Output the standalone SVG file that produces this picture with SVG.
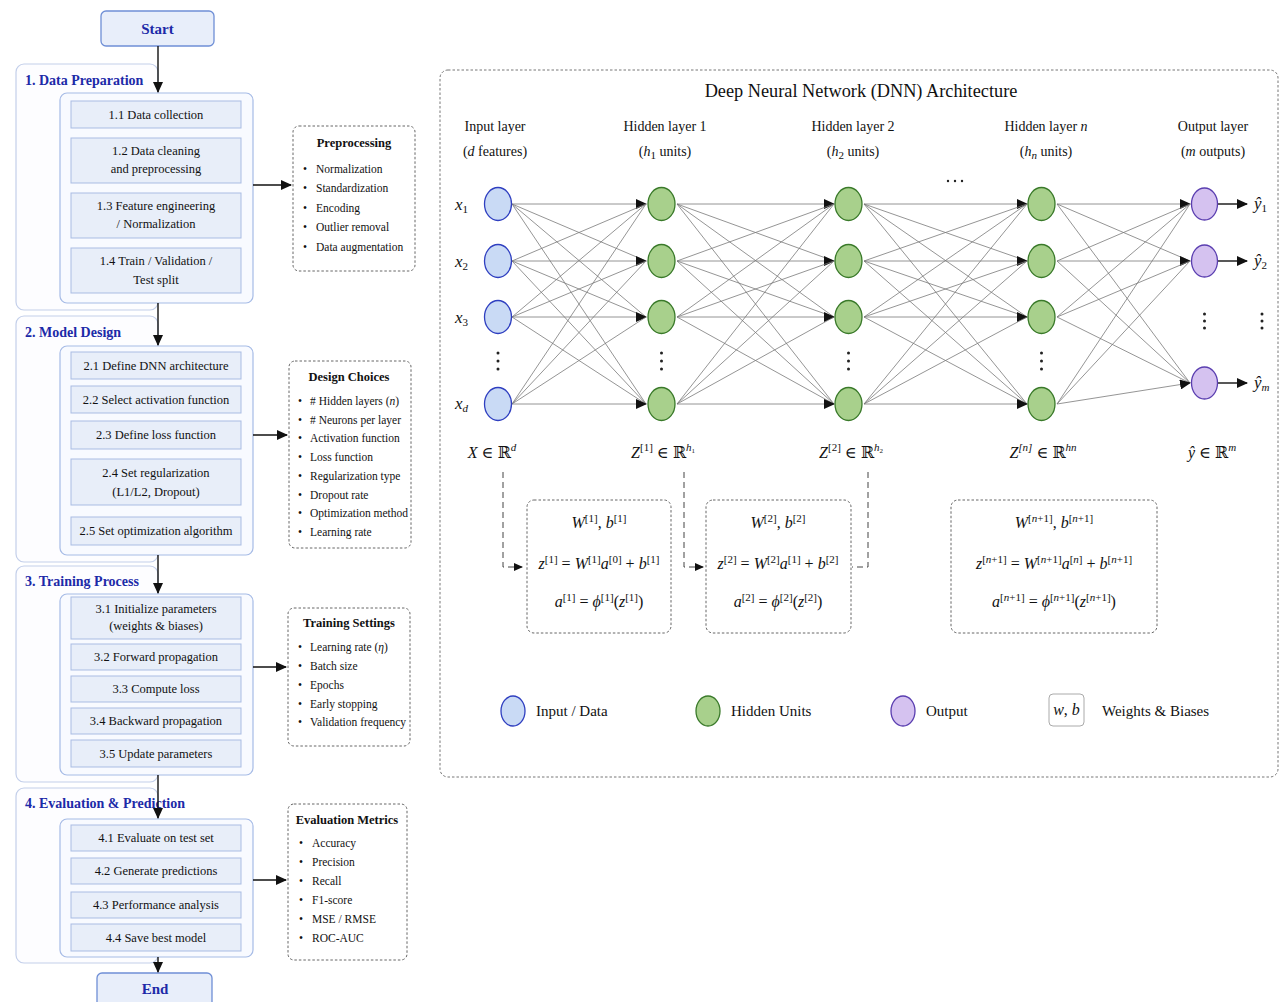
<svg xmlns="http://www.w3.org/2000/svg" width="1280" height="1002" viewBox="0 0 1280 1002">
<style>
.outer{fill:#fdfdff;stroke:#c3cfea;stroke-width:1.2}
.inner{fill:#f8faff;stroke:#a6bbe6;stroke-width:1.2}
.item{fill:#e8eef9;stroke:#a9bce3;stroke-width:1}
.side{fill:#fff;stroke:#666;stroke-width:1;stroke-dasharray:2.5 2}
.term{fill:#e8eefa;stroke:#6f8fd6;stroke-width:1.3}
.t{font-family:"Liberation Serif",serif;font-size:12.5px;fill:#111;text-anchor:middle}
.sec{font-family:"Liberation Serif",serif;font-size:14px;font-weight:bold;fill:#1c2aa8}
.termt{font-family:"Liberation Serif",serif;font-size:15px;font-weight:bold;fill:#1c2aa8;text-anchor:middle}
.st{font-family:"Liberation Serif",serif;font-size:12.5px;font-weight:bold;fill:#111;text-anchor:middle}
.bl{font-family:"Liberation Serif",serif;font-size:11.5px;fill:#111}
.flow{stroke:#111;stroke-width:1.4;fill:none}
.edge{stroke:#7a7a7a;stroke-width:0.8;fill:none}
.inN{fill:#c9daf5;stroke:#2f3fc0;stroke-width:1.3}
.hidN{fill:#a8d08c;stroke:#3a7a2a;stroke-width:1.3}
.outN{fill:#d5c2f0;stroke:#5a3eb0;stroke-width:1.3}
.hd{font-family:"Liberation Serif",serif;font-size:14px;fill:#111;text-anchor:middle}
.m{font-family:"Liberation Serif","DejaVu Serif",serif;font-size:17px;fill:#111}
.mc{font-family:"Liberation Serif","DejaVu Serif",serif;font-size:16px;fill:#111;text-anchor:middle}
.i{font-style:italic}
.sp{font-size:11px}
.dash{stroke:#444;stroke-width:1;stroke-dasharray:6 4;fill:none}
.fbox{fill:#fff;stroke:#666;stroke-width:1;stroke-dasharray:2.5 2}
.dot{fill:#222}
.lg{font-family:"Liberation Serif",serif;font-size:15px;fill:#111}
</style>
<defs>
<marker id="ah" markerWidth="11" markerHeight="10" refX="10" refY="5" orient="auto" markerUnits="userSpaceOnUse"><path d="M0,0 L11,5 L0,10z" fill="#111"/></marker>
<marker id="ahs" markerWidth="9" markerHeight="8" refX="8" refY="4" orient="auto" markerUnits="userSpaceOnUse"><path d="M0,0 L9,4 L0,8z" fill="#111"/></marker>
</defs>
<rect width="1280" height="1002" fill="#fff"/>

<!-- Left flowchart -->
<g id="start"><rect class="term" x="101" y="11" width="113" height="35" rx="5"/><text class="termt" x="157.5" y="34">Start</text></g>

<g id="sec1">
<rect class="outer" x="16" y="64" width="142" height="246" rx="8"/>
<text class="sec" x="25" y="85">1. Data Preparation</text>
<rect class="inner" x="60" y="93" width="193" height="210" rx="7"/>
<rect class="item" x="71" y="101" width="170" height="27"/><text class="t" x="156" y="119">1.1 Data collection</text>
<rect class="item" x="71" y="138" width="170" height="45"/><text class="t" x="156" y="155">1.2 Data cleaning</text><text class="t" x="156" y="173">and preprocessing</text>
<rect class="item" x="71" y="193" width="170" height="45"/><text class="t" x="156" y="210">1.3 Feature engineering</text><text class="t" x="156" y="228">/ Normalization</text>
<rect class="item" x="71" y="248" width="170" height="45"/><text class="t" x="156" y="265">1.4 Train / Validation /</text><text class="t" x="156" y="284">Test split</text>
</g>
<g id="pre">
<rect class="side" x="293" y="126" width="122" height="145" rx="6"/>
<text class="st" x="354" y="147">Preprocessing</text>
<g class="bl"><text x="303" y="173">•</text><text x="316" y="173">Normalization</text>
<text x="303" y="192">•</text><text x="316" y="192">Standardization</text>
<text x="303" y="212">•</text><text x="316" y="212">Encoding</text>
<text x="303" y="231">•</text><text x="316" y="231">Outlier removal</text>
<text x="303" y="251">•</text><text x="316" y="251">Data augmentation</text></g>
</g>

<g id="sec2">
<rect class="outer" x="16" y="316" width="142" height="246" rx="8"/>
<text class="sec" x="25" y="337">2. Model Design</text>
<rect class="inner" x="60" y="346" width="193" height="209" rx="7"/>
<rect class="item" x="71" y="352" width="170" height="27"/><text class="t" x="156" y="370">2.1 Define DNN architecture</text>
<rect class="item" x="71" y="386" width="170" height="27"/><text class="t" x="156" y="404">2.2 Select activation function</text>
<rect class="item" x="71" y="421" width="170" height="28"/><text class="t" x="156" y="439">2.3 Define loss function</text>
<rect class="item" x="71" y="459" width="170" height="46"/><text class="t" x="156" y="477">2.4 Set regularization</text><text class="t" x="156" y="496">(L1/L2, Dropout)</text>
<rect class="item" x="71" y="517" width="170" height="28"/><text class="t" x="156" y="535">2.5 Set optimization algorithm</text>
</g>
<g id="design">
<rect class="side" x="289" y="361" width="122" height="187" rx="6"/>
<text class="st" x="349" y="381">Design Choices</text>
<g class="bl"><text x="298" y="405">•</text><text x="310" y="405"># Hidden layers (<tspan font-style="italic">n</tspan>)</text>
<text x="298" y="424">•</text><text x="310" y="424"># Neurons per layer</text>
<text x="298" y="442">•</text><text x="310" y="442">Activation function</text>
<text x="298" y="461">•</text><text x="310" y="461">Loss function</text>
<text x="298" y="480">•</text><text x="310" y="480">Regularization type</text>
<text x="298" y="499">•</text><text x="310" y="499">Dropout rate</text>
<text x="298" y="517">•</text><text x="310" y="517">Optimization method</text>
<text x="298" y="536">•</text><text x="310" y="536">Learning rate</text></g>
</g>

<g id="sec3">
<rect class="outer" x="16" y="566" width="142" height="216" rx="8"/>
<text class="sec" x="25" y="586">3. Training Process</text>
<rect class="inner" x="60" y="594" width="193" height="181" rx="7"/>
<rect class="item" x="71" y="597" width="170" height="42"/><text class="t" x="156" y="613">3.1 Initialize parameters</text><text class="t" x="156" y="630">(weights &amp; biases)</text>
<rect class="item" x="71" y="644" width="170" height="26"/><text class="t" x="156" y="661">3.2 Forward propagation</text>
<rect class="item" x="71" y="676" width="170" height="26"/><text class="t" x="156" y="693">3.3 Compute loss</text>
<rect class="item" x="71" y="708" width="170" height="26"/><text class="t" x="156" y="725">3.4 Backward propagation</text>
<rect class="item" x="71" y="740" width="170" height="27"/><text class="t" x="156" y="758">3.5 Update parameters</text>
</g>
<g id="train">
<rect class="side" x="288" y="608" width="122" height="138" rx="6"/>
<text class="st" x="349" y="627">Training Settings</text>
<g class="bl"><text x="298" y="651">•</text><text x="310" y="651">Learning rate (<tspan font-style="italic">η</tspan>)</text>
<text x="298" y="670">•</text><text x="310" y="670">Batch size</text>
<text x="298" y="689">•</text><text x="310" y="689">Epochs</text>
<text x="298" y="708">•</text><text x="310" y="708">Early stopping</text>
<text x="298" y="726">•</text><text x="310" y="726">Validation frequency</text></g>
</g>

<g id="sec4">
<rect class="outer" x="16" y="788" width="142" height="175" rx="8"/>
<text class="sec" x="25" y="808">4. Evaluation &amp; Prediction</text>
<rect class="inner" x="60" y="819" width="193" height="138" rx="7"/>
<rect class="item" x="71" y="825" width="170" height="26"/><text class="t" x="156" y="842">4.1 Evaluate on test set</text>
<rect class="item" x="71" y="858" width="170" height="26"/><text class="t" x="156" y="875">4.2 Generate predictions</text>
<rect class="item" x="71" y="892" width="170" height="26"/><text class="t" x="156" y="909">4.3 Performance analysis</text>
<rect class="item" x="71" y="924" width="170" height="27"/><text class="t" x="156" y="942">4.4 Save best model</text>
</g>
<g id="evalm">
<rect class="side" x="288" y="804" width="119" height="156" rx="6"/>
<text class="st" x="347" y="824">Evaluation Metrics</text>
<g class="bl"><text x="299" y="847">•</text><text x="312" y="847">Accuracy</text>
<text x="299" y="866">•</text><text x="312" y="866">Precision</text>
<text x="299" y="885">•</text><text x="312" y="885">Recall</text>
<text x="299" y="904">•</text><text x="312" y="904">F1-score</text>
<text x="299" y="923">•</text><text x="312" y="923">MSE / RMSE</text>
<text x="299" y="942">•</text><text x="312" y="942">ROC-AUC</text></g>
</g>

<g id="end"><rect class="term" x="97" y="973" width="115" height="35" rx="5"/><text class="termt" x="155" y="994">End</text></g>

<g id="flow-connectors">
<path class="flow" d="M158,46 V92" marker-end="url(#ah)"/>
<path class="flow" d="M158,303 V345" marker-end="url(#ah)"/>
<path class="flow" d="M158,555 V593" marker-end="url(#ah)"/>
<path class="flow" d="M158,775 V818" marker-end="url(#ah)"/>
<path class="flow" d="M158,957 V972" marker-end="url(#ah)"/>
<path class="flow" d="M253,185 H291" marker-end="url(#ah)"/>
<path class="flow" d="M253,435 H287" marker-end="url(#ah)"/>
<path class="flow" d="M253,667 H286" marker-end="url(#ah)"/>
<path class="flow" d="M253,880 H286" marker-end="url(#ah)"/>
</g>

<!-- DNN panel -->
<g id="dnn-panel">
<rect x="440" y="70" width="838" height="707" rx="8" fill="#fff" stroke="#777" stroke-width="1" stroke-dasharray="2.5 2"/>
<text x="861" y="97" font-family="Liberation Serif, serif" font-size="18.3" fill="#111" text-anchor="middle">Deep Neural Network (DNN) Architecture</text>
<text class="hd" x="495" y="131">Input layer</text>
<text class="hd" x="495" y="156">(<tspan font-style="italic">d</tspan> features)</text>
<text class="hd" x="665" y="131">Hidden layer 1</text>
<text class="hd" x="665" y="156">(<tspan font-style="italic">h</tspan><tspan class="sp" dy="3">1</tspan><tspan dy="-3"> units)</tspan></text>
<text class="hd" x="853" y="131">Hidden layer 2</text>
<text class="hd" x="853" y="156">(<tspan font-style="italic">h</tspan><tspan class="sp" dy="3">2</tspan><tspan dy="-3"> units)</tspan></text>
<text class="hd" x="1046" y="131">Hidden layer <tspan font-style="italic">n</tspan></text>
<text class="hd" x="1046" y="156">(<tspan font-style="italic">h</tspan><tspan class="sp" dy="3" font-style="italic">n</tspan><tspan dy="-3"> units)</tspan></text>
<text class="hd" x="1213" y="131">Output layer</text>
<text class="hd" x="1213" y="156">(<tspan font-style="italic">m</tspan> outputs)</text>
<circle class="dot" cx="948" cy="181" r="1.2"/><circle class="dot" cx="955" cy="181" r="1.2"/><circle class="dot" cx="962" cy="181" r="1.2"/>
</g>

<g id="edges">
<!-- input -> h1 -->
<path class="edge" d="M512,204 L646,204" marker-end="url(#ah)"/><path class="edge" d="M512,204 L646,261"/><path class="edge" d="M512,204 L646,317"/><path class="edge" d="M512,204 L646,404"/>
<path class="edge" d="M512,261 L646,204"/><path class="edge" d="M512,261 L646,261" marker-end="url(#ah)"/><path class="edge" d="M512,261 L646,317"/><path class="edge" d="M512,261 L646,404"/>
<path class="edge" d="M512,317 L646,204"/><path class="edge" d="M512,317 L646,261"/><path class="edge" d="M512,317 L646,317" marker-end="url(#ah)"/><path class="edge" d="M512,317 L646,404"/>
<path class="edge" d="M512,404 L646,204"/><path class="edge" d="M512,404 L646,261"/><path class="edge" d="M512,404 L646,317"/><path class="edge" d="M512,404 L646,404" marker-end="url(#ah)"/>
<!-- h1 -> h2 -->
<path class="edge" d="M677,204 L834,204" marker-end="url(#ah)"/><path class="edge" d="M677,204 L834,261"/><path class="edge" d="M677,204 L834,317"/><path class="edge" d="M677,204 L834,404"/>
<path class="edge" d="M677,261 L834,204"/><path class="edge" d="M677,261 L834,261" marker-end="url(#ah)"/><path class="edge" d="M677,261 L834,317"/><path class="edge" d="M677,261 L834,404"/>
<path class="edge" d="M677,317 L834,204"/><path class="edge" d="M677,317 L834,261"/><path class="edge" d="M677,317 L834,317" marker-end="url(#ah)"/><path class="edge" d="M677,317 L834,404"/>
<path class="edge" d="M677,404 L834,204"/><path class="edge" d="M677,404 L834,261"/><path class="edge" d="M677,404 L834,317"/><path class="edge" d="M677,404 L834,404" marker-end="url(#ah)"/>
<!-- h2 -> hn -->
<path class="edge" d="M864,204 L1027,204" marker-end="url(#ah)"/><path class="edge" d="M864,204 L1027,261"/><path class="edge" d="M864,204 L1027,317"/><path class="edge" d="M864,204 L1027,404"/>
<path class="edge" d="M864,261 L1027,204"/><path class="edge" d="M864,261 L1027,261" marker-end="url(#ah)"/><path class="edge" d="M864,261 L1027,317"/><path class="edge" d="M864,261 L1027,404"/>
<path class="edge" d="M864,317 L1027,204"/><path class="edge" d="M864,317 L1027,261"/><path class="edge" d="M864,317 L1027,317" marker-end="url(#ah)"/><path class="edge" d="M864,317 L1027,404"/>
<path class="edge" d="M864,404 L1027,204"/><path class="edge" d="M864,404 L1027,261"/><path class="edge" d="M864,404 L1027,317"/><path class="edge" d="M864,404 L1027,404" marker-end="url(#ah)"/>
<!-- hn -> out -->
<path class="edge" d="M1057,204 L1190,204" marker-end="url(#ah)"/><path class="edge" d="M1057,204 L1190,261"/><path class="edge" d="M1057,204 L1190,383"/>
<path class="edge" d="M1057,261 L1190,204"/><path class="edge" d="M1057,261 L1190,261" marker-end="url(#ah)"/><path class="edge" d="M1057,261 L1190,383"/>
<path class="edge" d="M1057,317 L1190,204"/><path class="edge" d="M1057,317 L1190,261"/><path class="edge" d="M1057,317 L1190,383"/>
<path class="edge" d="M1057,404 L1190,204"/><path class="edge" d="M1057,404 L1190,261"/><path class="edge" d="M1057,404 L1190,383" marker-end="url(#ah)"/>
<!-- outputs -->
<path class="flow" d="M1218,204 H1247" marker-end="url(#ah)"/>
<path class="flow" d="M1218,261 H1247" marker-end="url(#ah)"/>
<path class="flow" d="M1218,383 H1247" marker-end="url(#ah)"/>
<!-- dashed links to formula boxes -->
<path class="dash" d="M503,472 V567 H522" marker-end="url(#ahs)"/>
<path class="dash" d="M684,472 V567 H703" marker-end="url(#ahs)"/>
<path class="dash" d="M868,472 V567 H852"/>
</g>

<g id="input-layer">
<ellipse class="inN" cx="498" cy="204" rx="13.5" ry="16.5"/>
<ellipse class="inN" cx="498" cy="261" rx="13.5" ry="16.5"/>
<ellipse class="inN" cx="498" cy="317" rx="13.5" ry="16.5"/>
<ellipse class="inN" cx="498" cy="404" rx="13.5" ry="16.5"/>
<circle class="dot" cx="498" cy="353" r="1.5"/><circle class="dot" cx="498" cy="361" r="1.5"/><circle class="dot" cx="498" cy="369" r="1.5"/>
<text class="m" x="455" y="210"><tspan class="i">x</tspan><tspan class="sp" dy="3">1</tspan></text>
<text class="m" x="455" y="267"><tspan class="i">x</tspan><tspan class="sp" dy="3">2</tspan></text>
<text class="m" x="455" y="323"><tspan class="i">x</tspan><tspan class="sp" dy="3">3</tspan></text>
<text class="m" x="455" y="409"><tspan class="i">x</tspan><tspan class="sp i" dy="3">d</tspan></text>
<text class="mc" x="492" y="458"><tspan class="i">X</tspan> ∈ ℝ<tspan class="sp i" dy="-7">d</tspan></text>
</g>
<g id="hidden-1">
<ellipse class="hidN" cx="661.5" cy="204" rx="13.5" ry="16.5"/>
<ellipse class="hidN" cx="661.5" cy="261" rx="13.5" ry="16.5"/>
<ellipse class="hidN" cx="661.5" cy="317" rx="13.5" ry="16.5"/>
<ellipse class="hidN" cx="661.5" cy="404" rx="13.5" ry="16.5"/>
<circle class="dot" cx="661.5" cy="353" r="1.5"/><circle class="dot" cx="661.5" cy="361" r="1.5"/><circle class="dot" cx="661.5" cy="369" r="1.5"/>
<text class="mc" x="663" y="458"><tspan class="i">Z</tspan><tspan class="sp" dy="-7">[1]</tspan><tspan dy="7"> ∈ ℝ</tspan><tspan class="sp i" dy="-7">h</tspan><tspan font-size="7" dy="2">1</tspan></text>
</g>
<g id="hidden-2">
<ellipse class="hidN" cx="848.5" cy="204" rx="13.5" ry="16.5"/>
<ellipse class="hidN" cx="848.5" cy="261" rx="13.5" ry="16.5"/>
<ellipse class="hidN" cx="848.5" cy="317" rx="13.5" ry="16.5"/>
<ellipse class="hidN" cx="848.5" cy="404" rx="13.5" ry="16.5"/>
<circle class="dot" cx="848.5" cy="353" r="1.5"/><circle class="dot" cx="848.5" cy="361" r="1.5"/><circle class="dot" cx="848.5" cy="369" r="1.5"/>
<text class="mc" x="851" y="458"><tspan class="i">Z</tspan><tspan class="sp" dy="-7">[2]</tspan><tspan dy="7"> ∈ ℝ</tspan><tspan class="sp i" dy="-7">h</tspan><tspan font-size="7" dy="2">2</tspan></text>
</g>
<g id="hidden-n">
<ellipse class="hidN" cx="1041.5" cy="204" rx="13.5" ry="16.5"/>
<ellipse class="hidN" cx="1041.5" cy="261" rx="13.5" ry="16.5"/>
<ellipse class="hidN" cx="1041.5" cy="317" rx="13.5" ry="16.5"/>
<ellipse class="hidN" cx="1041.5" cy="404" rx="13.5" ry="16.5"/>
<circle class="dot" cx="1041.5" cy="353" r="1.5"/><circle class="dot" cx="1041.5" cy="361" r="1.5"/><circle class="dot" cx="1041.5" cy="369" r="1.5"/>
<text class="mc" x="1043" y="458"><tspan class="i">Z</tspan><tspan class="sp i" dy="-7">[n]</tspan><tspan dy="7"> ∈ ℝ</tspan><tspan class="sp i" dy="-7">hn</tspan></text>
</g>
<g id="output-layer">
<ellipse class="outN" cx="1204.5" cy="204" rx="13" ry="16"/>
<ellipse class="outN" cx="1204.5" cy="261" rx="13" ry="16"/>
<ellipse class="outN" cx="1204.5" cy="383" rx="13" ry="16"/>
<circle class="dot" cx="1204.5" cy="314" r="1.5"/><circle class="dot" cx="1204.5" cy="321" r="1.5"/><circle class="dot" cx="1204.5" cy="328" r="1.5"/>
<circle class="dot" cx="1262" cy="314" r="1.5"/><circle class="dot" cx="1262" cy="321" r="1.5"/><circle class="dot" cx="1262" cy="328" r="1.5"/>
<text class="m" x="1254" y="209"><tspan class="i">ŷ</tspan><tspan class="sp" dy="3">1</tspan></text>
<text class="m" x="1254" y="266"><tspan class="i">ŷ</tspan><tspan class="sp" dy="3">2</tspan></text>
<text class="m" x="1254" y="388"><tspan class="i">ŷ</tspan><tspan class="sp i" dy="3">m</tspan></text>
<text class="mc" x="1212" y="458"><tspan class="i">ŷ</tspan> ∈ ℝ<tspan class="sp i" dy="-7">m</tspan></text>
</g>

<g id="formula-1">
<rect class="fbox" x="527" y="500" width="144" height="133" rx="7"/>
<text class="mc" x="599" y="528"><tspan class="i">W</tspan><tspan class="sp" dy="-6">[1]</tspan><tspan dy="6">, </tspan><tspan class="i">b</tspan><tspan class="sp" dy="-6">[1]</tspan></text>
<text class="mc" x="599" y="569"><tspan class="i">z</tspan><tspan class="sp" dy="-6">[1]</tspan><tspan dy="6"> = </tspan><tspan class="i">W</tspan><tspan class="sp" dy="-6">[1]</tspan><tspan class="i" dy="6">a</tspan><tspan class="sp" dy="-6">[0]</tspan><tspan dy="6"> + </tspan><tspan class="i">b</tspan><tspan class="sp" dy="-6">[1]</tspan></text>
<text class="mc" x="599" y="607"><tspan class="i">a</tspan><tspan class="sp" dy="-6">[1]</tspan><tspan dy="6"> = </tspan><tspan class="i">ϕ</tspan><tspan class="sp" dy="-6">[1]</tspan><tspan dy="6">(</tspan><tspan class="i">z</tspan><tspan class="sp" dy="-6">[1]</tspan><tspan dy="6">)</tspan></text>
</g>
<g id="formula-2">
<rect class="fbox" x="706" y="500" width="145" height="133" rx="7"/>
<text class="mc" x="778" y="528"><tspan class="i">W</tspan><tspan class="sp" dy="-6">[2]</tspan><tspan dy="6">, </tspan><tspan class="i">b</tspan><tspan class="sp" dy="-6">[2]</tspan></text>
<text class="mc" x="778" y="569"><tspan class="i">z</tspan><tspan class="sp" dy="-6">[2]</tspan><tspan dy="6"> = </tspan><tspan class="i">W</tspan><tspan class="sp" dy="-6">[2]</tspan><tspan class="i" dy="6">a</tspan><tspan class="sp" dy="-6">[1]</tspan><tspan dy="6"> + </tspan><tspan class="i">b</tspan><tspan class="sp" dy="-6">[2]</tspan></text>
<text class="mc" x="778" y="607"><tspan class="i">a</tspan><tspan class="sp" dy="-6">[2]</tspan><tspan dy="6"> = </tspan><tspan class="i">ϕ</tspan><tspan class="sp" dy="-6">[2]</tspan><tspan dy="6">(</tspan><tspan class="i">z</tspan><tspan class="sp" dy="-6">[2]</tspan><tspan dy="6">)</tspan></text>
</g>
<g id="formula-n">
<rect class="fbox" x="951" y="500" width="206" height="133" rx="7"/>
<text class="mc" x="1054" y="528"><tspan class="i">W</tspan><tspan class="sp" dy="-6">[<tspan class="i">n</tspan>+1]</tspan><tspan dy="6">, </tspan><tspan class="i">b</tspan><tspan class="sp" dy="-6">[<tspan class="i">n</tspan>+1]</tspan></text>
<text class="mc" x="1054" y="569"><tspan class="i">z</tspan><tspan class="sp" dy="-6">[<tspan class="i">n</tspan>+1]</tspan><tspan dy="6"> = </tspan><tspan class="i">W</tspan><tspan class="sp" dy="-6">[<tspan class="i">n</tspan>+1]</tspan><tspan class="i" dy="6">a</tspan><tspan class="sp" dy="-6">[<tspan class="i">n</tspan>]</tspan><tspan dy="6"> + </tspan><tspan class="i">b</tspan><tspan class="sp" dy="-6">[<tspan class="i">n</tspan>+1]</tspan></text>
<text class="mc" x="1054" y="607"><tspan class="i">a</tspan><tspan class="sp" dy="-6">[<tspan class="i">n</tspan>+1]</tspan><tspan dy="6"> = </tspan><tspan class="i">ϕ</tspan><tspan class="sp" dy="-6">[<tspan class="i">n</tspan>+1]</tspan><tspan dy="6">(</tspan><tspan class="i">z</tspan><tspan class="sp" dy="-6">[<tspan class="i">n</tspan>+1]</tspan><tspan dy="6">)</tspan></text>
</g>

<g id="legend">
<ellipse class="inN" cx="513" cy="711" rx="12" ry="15"/><text class="lg" x="536" y="716">Input / Data</text>
<ellipse class="hidN" cx="708" cy="711" rx="12" ry="15"/><text class="lg" x="731" y="716">Hidden Units</text>
<ellipse class="outN" cx="903" cy="711" rx="12" ry="15"/><text class="lg" x="926" y="716">Output</text>
<rect x="1049" y="694" width="35" height="32" rx="4" fill="#fff" stroke="#aaa" stroke-width="1"/>
<text class="mc" x="1066.5" y="715" font-size="14"><tspan class="i">w</tspan>, <tspan class="i">b</tspan></text>
<text class="lg" x="1102" y="716">Weights &amp; Biases</text>
</g>
</svg>
